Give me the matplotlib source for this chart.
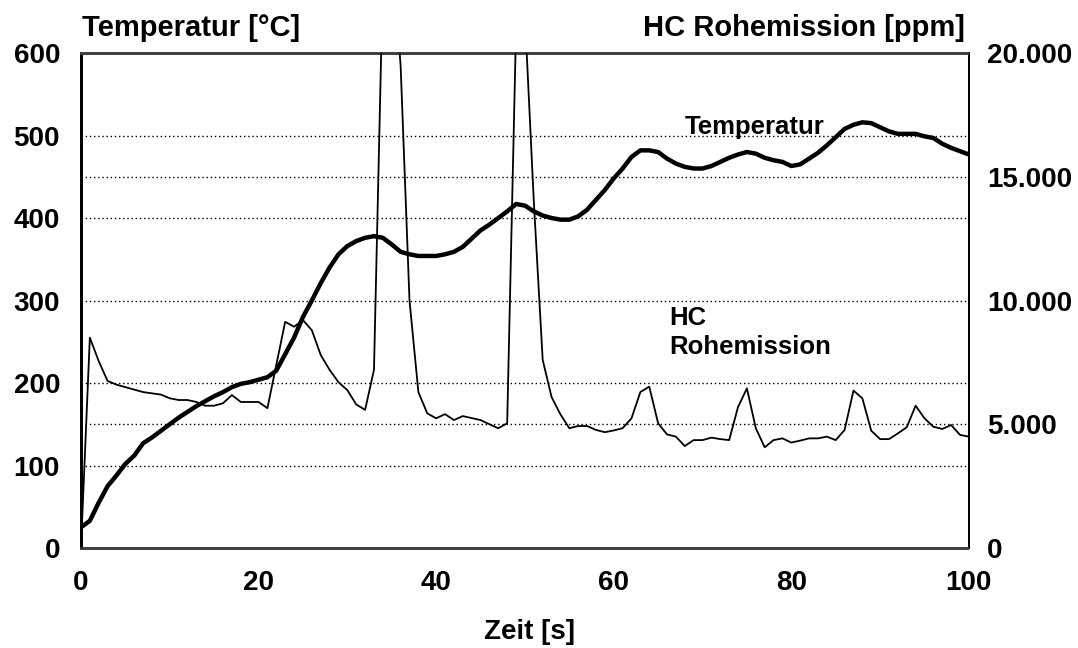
import matplotlib.pyplot as plt
import numpy as np

plt.rcParams['font.family'] = ['Liberation Sans', 'DejaVu Sans']
plt.rcParams['font.weight'] = 'bold'

# Zeit in Sekunden
zeit = np.arange(0, 101)

# Temperatur [°C]
temperatur = [25, 33, 55, 75, 88, 102, 112, 127, 134, 142,
              150, 158, 165, 172, 178, 184, 189, 195, 199, 201,
              204, 207, 215, 235, 255, 280, 300, 321, 340, 356,
              366, 372, 376, 378, 376, 368, 359, 356, 354, 354,
              354, 356, 359, 365, 375, 385, 392, 400, 408, 417,
              415, 408, 403, 400, 398, 398, 402, 410, 422, 434,
              448, 460, 474, 482, 482, 480, 472, 466, 462, 460,
              460, 463, 468, 473, 477, 480, 478, 473, 470, 468,
              463, 465, 472, 479, 488, 498, 508, 513, 516, 515,
              510, 505, 502, 502, 502, 499, 497, 490, 485, 481,
              477]

# HC Rohemission [ppm]
hc = [0, 8500, 7550, 6750, 6600, 6500, 6400, 6300, 6250, 6200,
      6050, 5980, 5980, 5900, 5750, 5750, 5850, 6180, 5900, 5900,
      5900, 5650, 7400, 9140, 8940, 9210, 8800, 7800, 7200, 6700,
      6380, 5800, 5580, 7200, 23000, 24000, 19500, 10000, 6300, 5440,
      5240, 5410, 5170, 5330, 5250, 5170, 5000, 4840, 5040, 21000,
      21500, 14000, 7600, 6100, 5400, 4840, 4930, 4930, 4770, 4680,
      4750, 4840, 5240, 6300, 6520, 5040, 4590, 4500, 4120, 4360,
      4360, 4460, 4400, 4360, 5700, 6450, 4840, 4070, 4360, 4430,
      4260, 4340, 4430, 4430, 4500, 4360, 4770, 6360, 6050, 4740,
      4400, 4400, 4630, 4880, 5750, 5240, 4900, 4810, 4970, 4570,
      4500]

left_ticks = [0, 100, 200, 300, 400, 500, 600]
right_ticks = [0, 5000, 10000, 15000, 20000]
right_labels = ['0', '5.000', '10.000', '15.000', '20.000']
x_ticks = [0, 20, 40, 60, 80, 100]

fig = plt.figure(figsize=(10.78, 6.48), dpi=100)
ax = fig.add_axes([0.0751, 0.1543, 0.8237, 0.7639])
ax2 = ax.twinx()

# gridlines for both axes
for v in left_ticks[1:-1]:
    ax.axhline(v, color='black', lw=1, ls=(0, (1, 2)), zorder=1)
for v in [5000, 15000]:
    ax2.axhline(v, color='black', lw=1, ls=(0, (1, 2)), zorder=1)

ax.plot(zeit, temperatur, color='black', lw=3.2, zorder=3, solid_joinstyle='round')
ax2.plot(zeit, hc, color='black', lw=1.3, zorder=3)

ax.set_xlim(0, 100)
ax.set_ylim(0, 600)
ax2.set_ylim(0, 20000)

ax.set_xticks(x_ticks)
ax.set_yticks(left_ticks)
ax2.set_yticks(right_ticks)
ax2.set_yticklabels(right_labels)

ax.tick_params(axis='y', length=0, pad=15, labelsize=20)
ax.tick_params(axis='x', length=0, pad=16, labelsize=20)
ax2.tick_params(axis='y', length=0, pad=13, labelsize=20)

for a in (ax, ax2):
    a.spines['top'].set_color('0.25')
    a.spines['top'].set_linewidth(2)
    a.spines['top'].set_linestyle((0, (1, 1)))
    a.spines['bottom'].set_color('0.25')
    a.spines['bottom'].set_linewidth(2)
    a.spines['bottom'].set_linestyle((0, (1, 1)))
    a.spines['left'].set_linewidth(2)
    a.spines['right'].set_linewidth(1.3)

fig.text(530 / 1078, 1 - 632 / 648, 'Zeit [s]', fontsize=20, fontweight='bold',
         ha='center', va='center')

fig.text(82 / 1078, 1 - 28 / 648, 'Temperatur [°C]', fontsize=21, va='center', ha='left')
fig.text(965 / 1078, 1 - 28 / 648, 'HC Rohemission [ppm]', fontsize=21, va='center', ha='right')

ax.text(68, 510, 'Temperatur', fontsize=18.5, ha='left', va='center')
ax.text(66.2, 261, 'HC\nRohemission', fontsize=18.5, ha='left', va='center', linespacing=1.25)

fig.savefig('out.png', dpi=100)
